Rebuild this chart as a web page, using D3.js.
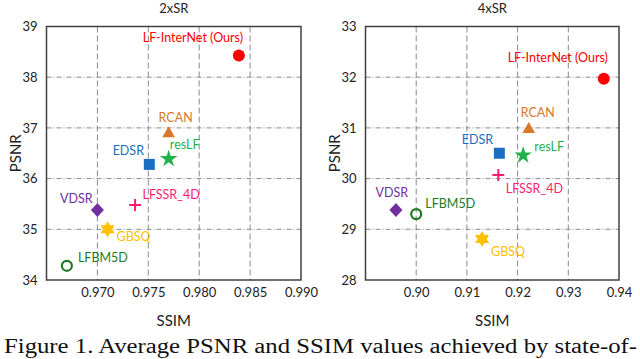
<!DOCTYPE html>
<html>
<head>
<meta charset="utf-8">
<script src="https://cdn.jsdelivr.net/npm/d3@7"></script>
<style>
    body { margin: 0; background: #fff; }
    text { font-family: Lato, "Liberation Sans", sans-serif; }
    .caption { font-family: "Liberation Serif", "DejaVu Serif", serif; }
</style>
</head>
<body>
<div id="chart"></div>
<script>
// method names, shared by both panels
var methods = ["LF-InterNet (Ours)", "RCAN", "resLF", "EDSR", "VDSR", "LFSSR_4D", "GBSQ", "LFBM5D"];
var colors = ["#ff0000", "#d9772b", "#1fb24a", "#1a6fc0", "#7030a0", "#ff1d74", "#ffc000", "#1e7b22"];
var shapes = ["circle", "triangle", "star", "square", "diamond", "plus", "hexagram", "ring"];

// 2xSR values
var ssim2x = [0.9839, 0.9770, 0.9770, 0.9751, 0.9700, 0.9737, 0.9710, 0.9670];
var psnr2x = [38.43, 36.89, 36.39, 36.28, 35.38, 35.48, 35.00, 34.28];
// 4xSR values
var ssim4x = [0.9370, 0.9222, 0.9211, 0.9164, 0.8960, 0.9162, 0.9130, 0.9000];
var psnr4x = [31.97, 30.97, 30.46, 30.50, 29.38, 30.07, 28.81, 29.30];

var xTicks2x = [0.970, 0.975, 0.980, 0.985, 0.990];
var yTicks2x = [34, 35, 36, 37, 38, 39];
var xTicks4x = [0.90, 0.91, 0.92, 0.93, 0.94];
var yTicks4x = [28, 29, 30, 31, 32, 33];

var svg = d3.select("#chart").append("svg")
    .attr("width", 640)
    .attr("height", 359);

// hexagram path (two triangles)
function hexagram(r) {
    var pts = [];
    for (var i = 0; i < 12; i++) {
        var rr = i % 2 == 0 ? r : r * 0.58;
        var a = Math.PI / 6 * i - Math.PI / 2;
        pts.push([rr * Math.cos(a), rr * Math.sin(a)]);
    }
    return "M" + pts.map(p => p.join(",")).join("L") + "Z";
}

function drawMarker(g, shape, color) {
    if (shape == "circle") {
        g.append("circle").attr("r", 6).attr("fill", color);
    } else if (shape == "ring") {
        g.append("circle").attr("r", 5).attr("fill", "none").attr("stroke", color).attr("stroke-width", 2.2);
    } else if (shape == "plus") {
        g.append("path").attr("d", "M-6,0H6M0,-6V6").attr("stroke", color).attr("stroke-width", 2);
    } else if (shape == "hexagram") {
        g.append("path").attr("d", hexagram(8)).attr("fill", color);
    } else if (shape == "triangle") {
        g.append("path").attr("d", d3.symbol(d3.symbolTriangle, 70)()).attr("fill", color);
    } else if (shape == "star") {
        g.append("path").attr("d", d3.symbol(d3.symbolStar, 95)()).attr("fill", color);
    } else if (shape == "square") {
        g.append("rect").attr("x", -5.5).attr("y", -5.5).attr("width", 11).attr("height", 11).attr("fill", color);
    } else if (shape == "diamond") {
        g.append("path").attr("d", "M0,-7L6.5,0L0,7L-6.5,0Z").attr("fill", color);
    }
}

function drawPanel(opt) {
    var x = d3.scaleLinear().domain(opt.xDomain).range([opt.left, opt.right]);
    var y = d3.scaleLinear().domain(opt.yDomain).range([opt.bottom, opt.top]);
    var g = svg.append("g");

    // grid
    g.append("g").selectAll("line")
        .data(opt.xTicks.slice(0, -1))
        .enter().append("line")
        .attr("x1", d => x(d)).attr("x2", d => x(d))
        .attr("y1", opt.top).attr("y2", opt.bottom)
        .attr("stroke", "#8a8a8a").attr("stroke-width", 1)
        .attr("stroke-dasharray", "6,3");
    g.append("g").selectAll("line")
        .data(opt.yTicks.slice(1, -1))
        .enter().append("line")
        .attr("x1", opt.left).attr("x2", opt.right)
        .attr("y1", d => y(d)).attr("y2", d => y(d))
        .attr("stroke", "#8a8a8a").attr("stroke-width", 1)
        .attr("stroke-dasharray", "5,2,1,2");

    // frame
    g.append("rect")
        .attr("x", opt.left).attr("y", opt.top)
        .attr("width", opt.right - opt.left).attr("height", opt.bottom - opt.top)
        .attr("fill", "none").attr("stroke", "#404040").attr("stroke-width", 1.5);

    // axes (labels only)
    var xAxis = d3.axisBottom(x).tickValues(opt.xTicks).tickSize(0).tickPadding(8)
        .tickFormat(d3.format(opt.xFormat));
    g.append("g").attr("transform", `translate(0,${opt.bottom})`).call(xAxis)
        .call(a => a.select(".domain").remove())
        .selectAll("text").attr("font-size", 13).attr("fill", "#222")
        .style("font-family", "Lato, sans-serif");
    var yAxis = d3.axisLeft(y).tickValues(opt.yTicks).tickSize(0).tickPadding(9)
        .tickFormat(d3.format("d"));
    g.append("g").attr("transform", `translate(${opt.left},0)`).call(yAxis)
        .call(a => a.select(".domain").remove())
        .selectAll("text").attr("font-size", 13).attr("fill", "#222")
        .style("font-family", "Lato, sans-serif");

    // titles
    var cx = (opt.left + opt.right) / 2;
    g.append("text").attr("x", cx).attr("y", 13).attr("text-anchor", "middle")
        .attr("font-size", 13).attr("fill", "#222").text(opt.title);
    g.append("text").attr("x", cx).attr("y", 326).attr("text-anchor", "middle")
        .attr("font-size", 15).attr("fill", "#222").text("SSIM");
    g.append("text").attr("transform", `translate(${opt.left - 26},${(opt.top + opt.bottom) / 2}) rotate(-90)`)
        .attr("text-anchor", "middle").attr("font-size", 15).attr("fill", "#222").text("PSNR");

    // points
    methods.forEach(function(m, i) {
        var mg = g.append("g").attr("transform", `translate(${x(opt.ssim[i])},${y(opt.psnr[i])})`);
        drawMarker(mg, shapes[i], colors[i]);
        var lp = opt.labels[i];
        mg.append("text").attr("x", lp[0]).attr("y", lp[1])
            .attr("text-anchor", "middle").attr("font-size", 12.5)
            .attr("fill", colors[i]).text(m);
    });
}

drawPanel({
    title: "2xSR", left: 46.5, right: 301, top: 26.5, bottom: 280,
    xDomain: [0.965, 0.990], yDomain: [34, 39],
    xTicks: xTicks2x, yTicks: yTicks2x, xFormat: ".3f",
    ssim: ssim2x, psnr: psnr2x,
    // label offsets from marker [dx, baseline dy]
    labels: [[-46, -13], [7, -11], [16, -10], [-21, -9], [-21, -7], [36, -6], [26, 12], [36, -4]]
});

drawPanel({
    title: "4xSR", left: 365.5, right: 619, top: 26.5, bottom: 280,
    xDomain: [0.89, 0.94], yDomain: [28, 33],
    xTicks: xTicks4x, yTicks: yTicks4x, xFormat: ".2f",
    ssim: ssim4x, psnr: psnr4x,
    labels: [[-46, -17], [9, -12], [26, -4], [-22, -9], [-4, -13], [36, 18], [26, 17], [34, -6]]
});

svg.append("text").attr("class", "caption")
    .attr("x", 4).attr("y", 353)
    .attr("font-size", 20).attr("fill", "#111")
    .attr("textLength", 633).attr("lengthAdjust", "spacingAndGlyphs")
    .text("Figure 1. Average PSNR and SSIM values achieved by state-of-");
</script>
</body>
</html>
